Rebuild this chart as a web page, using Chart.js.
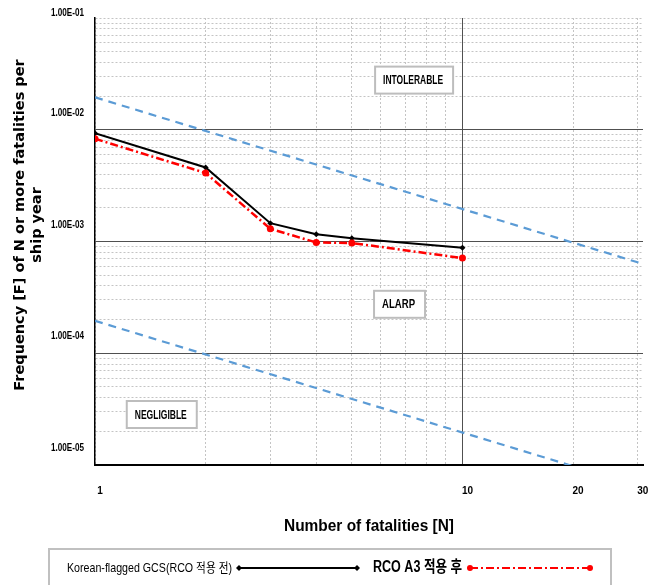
<!DOCTYPE html>
<html>
<head>
<meta charset="utf-8">
<script src="https://cdn.jsdelivr.net/npm/chart.js@4/dist/chart.umd.min.js"></script>
<style>
  html, body { margin: 0; padding: 0; background: #fff; }
</style>
</head>
<body>
<canvas id="chart" width="654" height="585"></canvas>
<script>
const fatalities = [1, 2, 3, 4, 5, 10];
const freqBefore = [9.3e-3, 4.6e-3, 1.46e-3, 1.16e-3, 1.07e-3, 8.8e-4];
const freqAfter = [8.3e-3, 4.1e-3, 1.3e-3, 9.8e-4, 9.7e-4, 7.1e-4];

// Líneas de criterio (límites ALARP)
const criteriaN = [1, 31];
const upperLimit = [1.95e-2, 6.3e-4];
const lowerLimit = [1.95e-4, 6.3e-6];

const seriesLabels = ['Korean-flagged GCS(RCO 적용 전)', 'RCO A3 적용 후'];
const yDecades = [1e-5, 1e-4, 1e-3, 1e-2, 1e-1];
const yTickLabels = ['1.00E-05', '1.00E-04', '1.00E-03', '1.00E-02', '1.00E-01'];
const xLabelValues = [1, 10, 20, 30];
const xTickLabels = ['1', '10', '20', '30'];

// Zonas de riesgo
const zoneNames = ['INTOLERABLE', 'ALARP', 'NEGLIGIBLE'];
const zoneN = [7.34, 6.7, 1.51];
const zoneF = [2.81e-2, 2.77e-4, 2.86e-5];

const yTitle = ['Frequency [F] of N or more fatalities per', 'ship year'];
const xTitle = 'Number of fatalities [N]';

const SANS = "'Liberation Sans', Arial, 'Noto Sans CJK KR', sans-serif";

// Líneas de la cuadrícula (1..9 por década)
const xGrid = [];
for (let i = 1; i <= 10; i++) xGrid.push(i);
xGrid.push(20, 30);
const yGrid = [];
for (let d = 0; d < yDecades.length - 1; d++) {
    for (let k = 1; k <= 9; k++) yGrid.push(yDecades[d] * k);
}
yGrid.push(yDecades[yDecades.length - 1]);

const isDecade = v => Math.abs(Math.log10(v) - Math.round(Math.log10(v))) < 1e-9;

function gridColor(ctx, darkValues) {
    if (!ctx.tick) return '#bfbfbf';
    return darkValues(ctx.tick.value) ? '#505050' : '#c4c4c4';
}
function gridDash(ctx, darkValues) {
    if (!ctx.tick) return [];
    return darkValues(ctx.tick.value) ? [] : [2, 2];
}
const xDark = v => v === 10;
const yDark = v => isDecade(v) && v > 1.5e-5 && v < 0.09;

// Texto estrecho: se comprime en horizontal para imitar la fuente del original
function narrowText(ctx, text, x, y, font, width, align) {
    ctx.save();
    ctx.font = font;
    const w = ctx.measureText(text).width;
    const sx = Math.min(1, width / w);
    ctx.translate(x, y);
    ctx.scale(sx, 1);
    ctx.textAlign = align;
    ctx.fillText(text, 0, 0);
    ctx.restore();
    return w * sx;
}

// Textos, cuadros de zona y leyenda
const overlay = {
    id: 'overlay',
    beforeDatasetsDraw(chart) {
        const ctx = chart.ctx;
        const xs = chart.scales.x, ys = chart.scales.y;
        const widths = [60, 33, 52];
        ctx.save();
        ctx.textBaseline = 'middle';
        zoneNames.forEach((name, i) => {
            const cx = xs.getPixelForValue(zoneN[i]);
            const cy = ys.getPixelForValue(zoneF[i]);
            const w = widths[i];
            ctx.fillStyle = '#fff';
            ctx.strokeStyle = '#bdbdbd';
            ctx.lineWidth = 2;
            ctx.fillRect(cx - w / 2 - 8, cy - 13, w + 18, 27);
            ctx.strokeRect(cx - w / 2 - 8, cy - 13, w + 18, 27);
            ctx.fillStyle = '#000';
            narrowText(ctx, name, cx, cy + 1, "bold 13px " + SANS, w, 'center');
        });
        ctx.restore();
    },
    afterDraw(chart) {
        const ctx = chart.ctx;
        const ys = chart.scales.y;
        const area = chart.chartArea;
        ctx.save();
        ctx.fillStyle = '#000';
        ctx.textBaseline = 'middle';
        // etiquetas del eje Y (desplazadas como en el original)
        yDecades.forEach((v, i) => {
            const py = Math.max(ys.getPixelForValue(v) - 17, area.top - 5);
            narrowText(ctx, yTickLabels[i], 84, py, "bold 11px " + SANS, 33, 'right');
        });
        // título del eje Y
        ctx.save();
        ctx.translate(20, 225);
        ctx.rotate(-Math.PI / 2);
        ctx.font = "bold 14.5px 'DejaVu Sans', Verdana, sans-serif";
        ctx.textAlign = 'center';
        ctx.fillText(yTitle[0], 0, 0);
        ctx.fillText(yTitle[1], 0, 17);
        ctx.restore();
        // título del eje X
        narrowText(ctx, xTitle, 369, 526, "bold 17px " + SANS, 170, 'center');
        // leyenda
        ctx.strokeStyle = '#c0c0c0';
        ctx.lineWidth = 2;
        ctx.strokeRect(49, 549, 562, 50);
        const ly = 568;
        narrowText(ctx, seriesLabels[0], 67, ly, "13px " + SANS, 165, 'left');
        ctx.strokeStyle = '#000';
        ctx.lineWidth = 2;
        ctx.beginPath();
        ctx.moveTo(239, ly); ctx.lineTo(357, ly);
        ctx.stroke();
        ctx.fillStyle = '#000';
        [239, 357].forEach(px => {
            ctx.beginPath();
            ctx.moveTo(px - 3, ly); ctx.lineTo(px, ly - 3); ctx.lineTo(px + 3, ly); ctx.lineTo(px, ly + 3);
            ctx.closePath(); ctx.fill();
        });
        narrowText(ctx, seriesLabels[1], 373, ly, "bold 16px " + SANS, 89, 'left');
        ctx.strokeStyle = '#ff0000';
        ctx.lineWidth = 2;
        ctx.setLineDash([8, 3, 2, 3]);
        ctx.beginPath();
        ctx.moveTo(470, ly); ctx.lineTo(590, ly);
        ctx.stroke();
        ctx.setLineDash([]);
        ctx.fillStyle = '#ff0000';
        [470, 590].forEach(px => {
            ctx.beginPath(); ctx.arc(px, ly, 3, 0, Math.PI * 2); ctx.fill();
        });
        ctx.restore();
    }
};

const ctx = document.getElementById('chart').getContext('2d');
new Chart(ctx, {
    type: 'line',
    data: {
        datasets: [{
            label: 'upper',
            data: criteriaN.map((n, i) => ({ x: n, y: upperLimit[i] })),
            borderColor: '#5b9bd5',
            borderWidth: 2.2,
            borderDash: [8, 6],
            pointRadius: 0,
            fill: false
        }, {
            label: 'lower',
            data: criteriaN.map((n, i) => ({ x: n, y: lowerLimit[i] })),
            borderColor: '#5b9bd5',
            borderWidth: 2.2,
            borderDash: [8, 6],
            pointRadius: 0,
            fill: false
        }, {
            label: seriesLabels[1],
            data: fatalities.map((n, i) => ({ x: n, y: freqAfter[i] })),
            borderColor: '#ff0000',
            backgroundColor: '#ff0000',
            borderWidth: 2.5,
            borderDash: [8, 3, 2, 3],
            pointRadius: 3.5,
            pointBorderWidth: 0,
            pointStyle: 'circle',
            fill: false
        }, {
            label: seriesLabels[0],
            data: fatalities.map((n, i) => ({ x: n, y: freqBefore[i] })),
            borderColor: '#000',
            backgroundColor: '#000',
            borderWidth: 2,
            pointRadius: 3,
            pointBorderWidth: 0,
            pointStyle: 'rectRot',
            fill: false
        }]
    },
    options: {
        responsive: false,
        animation: false,
        layout: { padding: { top: 18, right: 11, left: 0, bottom: 0 } },
        plugins: { legend: { display: false }, tooltip: { enabled: false } },
        scales: {
            x: {
                type: 'logarithmic',
                min: 1,
                max: 31,
                bounds: 'data',
                afterBuildTicks: s => { s.ticks = xGrid.map(v => ({ value: v })); },
                afterFit: s => { s.height = 120; s.paddingLeft = 0; s.paddingRight = 0; },
                ticks: {
                    autoSkip: false,
                    maxRotation: 0,
                    padding: 20,
                    labelOffset: 5,
                    color: '#000',
                    font: { family: SANS, size: 10, weight: 'bold' },
                    callback: v => {
                        const i = xLabelValues.indexOf(v);
                        return i >= 0 ? xTickLabels[i] : '';
                    }
                },
                grid: {
                    drawTicks: false,
                    color: c => gridColor(c, xDark),
                    lineWidth: 1
                },
                border: { color: '#000', width: 2, dash: c => gridDash(c, xDark) }
            },
            y: {
                type: 'logarithmic',
                min: 1e-5,
                max: 1e-1,
                bounds: 'data',
                afterBuildTicks: s => { s.ticks = yGrid.map(v => ({ value: v })); },
                afterFit: s => { s.width = 95; },
                ticks: { display: false },
                grid: {
                    drawTicks: false,
                    color: c => gridColor(c, yDark),
                    lineWidth: 1
                },
                border: { color: '#000', width: 1.5, dash: c => gridDash(c, yDark) }
            }
        }
    },
    plugins: [overlay]
});
</script>
</body>
</html>
